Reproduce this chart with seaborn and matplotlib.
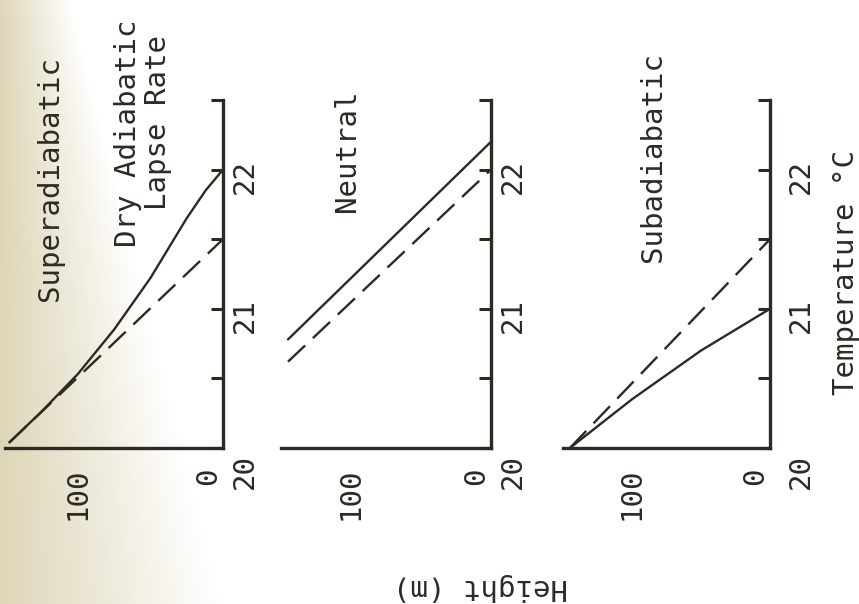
import numpy as np
import pandas as pd
import matplotlib
matplotlib.use("Agg")
import matplotlib.pyplot as plt
import seaborn as sns
from matplotlib.transforms import ScaledTranslation

# Werte (Hoehe in m, Temperatur in °C)
panel_names = ["Superadiabatic", "Neutral", "Subadiabatic"]

super_height = [147, 125, 100, 75, 50, 25, 12, 0]
super_temp = [20.04, 20.26, 20.53, 20.85, 21.22, 21.65, 21.85, 22.0]
super_dry_height = [147, 0]
super_dry_temp = [20.04, 21.5]

neutral_height = [145, 0]
neutral_temp = [20.78, 22.2]
neutral_dry_height = [145, 0]
neutral_dry_temp = [20.62, 22.0]

sub_height = [145, 100, 50, 0]
sub_temp = [20.0, 20.35, 20.70, 21.0]
sub_dry_height = [145, 0]
sub_dry_temp = [20.0, 21.5]

height_ticks = [0, 50, 100, 150]
height_labels = ["0", "", "100", ""]
temp_ticks = [20, 20.5, 21, 21.5, 22, 22.5]
temp_labels = ["20", "", "21", "", "22", ""]

rows = []
for name, h, t, hd, td in [
    ("Superadiabatic", super_height, super_temp, super_dry_height, super_dry_temp),
    ("Neutral", neutral_height, neutral_temp, neutral_dry_height, neutral_dry_temp),
    ("Subadiabatic", sub_height, sub_temp, sub_dry_height, sub_dry_temp),
]:
    rows += [{"panel": name, "series": "profile", "height": a, "temp": b} for a, b in zip(h, t)]
    rows += [{"panel": name, "series": "dry", "height": a, "temp": b} for a, b in zip(hd, td)]
df = pd.DataFrame(rows)

sns.set_theme(style="white")
plt.rcParams["font.family"] = ["DejaVu Sans Mono", "DejaVu Sans"]
ink = "#2d2a24"
fs = 21

fig = plt.figure(figsize=(8.59, 6.04), dpi=100)

# vergilbter Seitenrand links
bg = fig.add_axes([0, 0, 1, 1], zorder=-10)
bg.axis("off")
yy, xx = np.mgrid[0:604, 0:859]
edge = 70 + 0.25 * yy
fade = np.clip(1 - xx / edge, 0, 1)
tint = np.array([0.87, 0.84, 0.72])
bg.imshow(1 - fade[..., None] * (1 - tint), aspect="auto", extent=[0, 1, 0, 1])

rects = [
    [5 / 859, 156 / 604, 218 / 859, 348 / 604],
    [281 / 859, 156 / 604, 210 / 859, 348 / 604],
    [563 / 859, 156 / 604, 207 / 859, 348 / 604],
]
label_pads = [6, 6, 12]

for name, rect, lpad in zip(panel_names, rects, label_pads):
    ax = fig.add_axes(rect)
    ax.set_facecolor("none")
    sub = df[df["panel"] == name]
    sns.lineplot(
        data=sub, x="height", y="temp", style="series",
        dashes={"profile": "", "dry": (10, 4.5)},
        color=ink, lw=1.7, legend=False, ax=ax, sort=False, estimator=None,
    )
    ax.set_xlim(150, 0)
    ax.set_ylim(20, 22.5)
    ax.set_xlabel("")
    ax.set_ylabel("")
    for s in ["top", "left"]:
        ax.spines[s].set_visible(False)
    for s in ["right", "bottom"]:
        ax.spines[s].set_linewidth(2.4)
        ax.spines[s].set_color(ink)
    ax.yaxis.tick_right()
    ax.set_xticks(height_ticks, height_labels)
    ax.set_yticks(temp_ticks, temp_labels)
    ax.tick_params(axis="x", direction="in", length=9, width=2.2, pad=14,
                   labelrotation=90, labelsize=fs, colors=ink)
    ax.tick_params(axis="y", direction="in", length=9, width=2.2, pad=lpad,
                   labelrotation=90, labelsize=fs, colors=ink)
    # "20" und "0" etwas von der Ecke weggeschoben
    lab20 = ax.get_yticklabels()[0]
    lab20.set_transform(lab20.get_transform() + ScaledTranslation(0, -0.17, fig.dpi_scale_trans))
    lab0 = ax.get_xticklabels()[0]
    lab0.set_transform(lab0.get_transform() + ScaledTranslation(-0.15, 0, fig.dpi_scale_trans))

def label(x, y, s, rot=90):
    fig.text(x / 859, 1 - y / 604, s, rotation=rot, ha="center", va="center",
             fontsize=fs, color=ink)

label(50, 178, "Superadiabatic")
label(128, 133, "Dry Adiabatic")
label(158, 122, "Lapse Rate")
label(347, 151, "Neutral")
label(653, 157, "Subadiabatic")
label(846, 272, "Temperature °C")
label(481, 587, "Height (m)", rot=180)

plt.savefig("out.png", dpi=100)
